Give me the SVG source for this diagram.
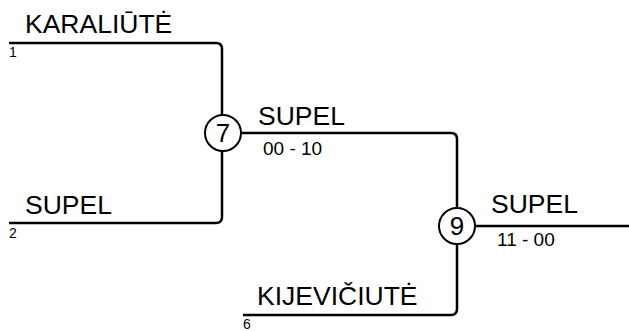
<svg xmlns="http://www.w3.org/2000/svg" width="629" height="331" viewBox="0 0 629 331">
<style>
.ln{fill:none;stroke:#000;stroke-width:2.5}
.nd{fill:#fff;stroke:#000;stroke-width:2}
.nm{font-family:"Liberation Sans",Arial,sans-serif;font-size:26.5px;fill:#000}
.sc{font-family:"Liberation Sans",Arial,sans-serif;font-size:19px;fill:#000}
.sd{font-family:"Liberation Sans",Arial,sans-serif;font-size:14px;fill:#000}
.ni{font-family:"Liberation Sans",Arial,sans-serif;font-size:26px;fill:#000;text-anchor:middle}
</style>
<rect width="629" height="331" fill="#fff"/>
<g id="connectors">
<path class="ln" d="M9 43 H216 Q222 43 222 49 V115"/>
<path class="ln" d="M9 223 H216 Q222 223 222 217 V151"/>
<path class="ln" d="M241 133 H451 Q457 133 457 139 V208"/>
<path class="ln" d="M243 315 H451 Q457 315 457 309 V244"/>
<path class="ln" d="M475 226 H629"/>
</g>
<g id="entry1"><text class="nm" x="25" y="33">KARALIŪTĖ</text><text class="sd" x="9" y="57">1</text></g>
<g id="entry2"><text class="nm" x="25" y="214">SUPEL</text><text class="sd" x="9" y="238">2</text></g>
<g id="entry6"><text class="nm" x="257" y="305">KIJEVIČIUTĖ</text><text class="sd" x="243" y="329">6</text></g>
<g id="node7"><circle class="nd" cx="223" cy="133" r="18"/><text class="ni" x="223" y="142">7</text></g>
<g id="winner7"><text class="nm" x="258" y="125">SUPEL</text><text class="sc" x="263" y="155">00 - 10</text></g>
<g id="node9"><circle class="nd" cx="457" cy="226" r="18"/><text class="ni" x="457" y="235">9</text></g>
<g id="winner9"><text class="nm" x="491" y="213">SUPEL</text><text class="sc" x="497" y="246">11 - 00</text></g>
</svg>
